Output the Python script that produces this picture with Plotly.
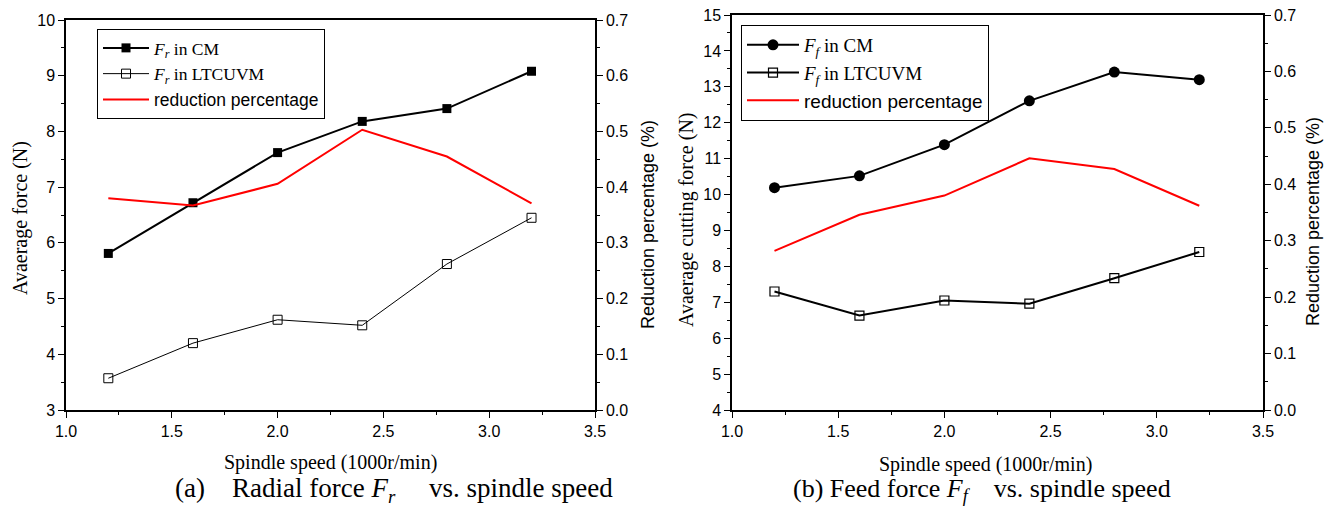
import plotly.graph_objects as go

speed = [1.2, 1.6, 2.0, 2.4, 2.8, 3.2]

# (a) radial force
fr_cm = [5.81, 6.72, 7.62, 8.18, 8.41, 9.08]
fr_ltcuvm = [3.57, 4.20, 4.62, 4.52, 5.62, 6.45]
fr_reduction = [0.380, 0.367, 0.406, 0.503, 0.455, 0.371]

# (b) feed force
ff_cm = [10.19, 10.52, 11.39, 12.61, 13.41, 13.20]
ff_ltcuvm = [7.30, 6.63, 7.05, 6.96, 7.67, 8.40]
ff_reduction = [0.282, 0.346, 0.380, 0.446, 0.427, 0.362]

SERIF = "Liberation Serif"
SANS = "Liberation Sans"
RED = "#ff0000"
W, H = 1333, 507

fig = go.Figure()

# ---- left chart
fig.add_trace(go.Scatter(x=speed, y=fr_cm, mode="lines+markers", xaxis="x", yaxis="y",
                         name="<i>F</i><sub><i>r</i></sub> in CM", legend="legend",
                         line=dict(color="black", width=2),
                         marker=dict(symbol="square", size=9, color="black")))
fig.add_trace(go.Scatter(x=speed, y=fr_ltcuvm, mode="lines+markers", xaxis="x", yaxis="y",
                         name="<i>F</i><sub><i>r</i></sub> in LTCUVM", legend="legend",
                         line=dict(color="black", width=1),
                         marker=dict(symbol="square-open", size=9, color="black", line=dict(width=1))))
fig.add_trace(go.Scatter(x=speed, y=fr_reduction, mode="lines", xaxis="x", yaxis="y2",
                         name=f'<span style="font-family:{SANS}">reduction percentage</span>', legend="legend",
                         line=dict(color=RED, width=2)))

# ---- right chart
fig.add_trace(go.Scatter(x=speed, y=ff_cm, mode="lines+markers", xaxis="x2", yaxis="y3",
                         name="<i>F</i><sub><i>f</i></sub> in CM", legend="legend2",
                         line=dict(color="black", width=2),
                         marker=dict(symbol="circle", size=11, color="black")))
fig.add_trace(go.Scatter(x=speed, y=ff_ltcuvm, mode="lines+markers", xaxis="x2", yaxis="y3",
                         name="<i>F</i><sub><i>f</i></sub> in LTCUVM", legend="legend2",
                         line=dict(color="black", width=2),
                         marker=dict(symbol="square-open", size=9, color="black", line=dict(width=1.2))))
fig.add_trace(go.Scatter(x=speed, y=ff_reduction, mode="lines", xaxis="x2", yaxis="y4",
                         name=f'<span style="font-family:{SANS}">reduction percentage</span>', legend="legend2",
                         line=dict(color=RED, width=2)))

tickfont = dict(family=SANS, size=16, color="black")
common = dict(showline=True, linecolor="black", linewidth=1.5, ticks="outside", ticklen=6,
              tickwidth=1.2, tickcolor="black", showgrid=False, zeroline=False, tickfont=tickfont,
              automargin=False)

L_dom = [66 / W, 595 / W]
R_dom = [732 / W, 1263 / W]
yL_dom = [1 - 410 / H, 1 - 20 / H]
yR_dom = [1 - 410 / H, 1 - 15 / H]


def minor(d):
    return dict(dtick=d, ticklen=3, ticks="outside", tickcolor="black", tickwidth=1.2)


fig.update_layout(
    width=W, height=H,
    margin=dict(l=0, r=0, t=0, b=0),
    paper_bgcolor="white", plot_bgcolor="white",
    xaxis=dict(domain=L_dom, range=[1, 3.5], dtick=0.5, tick0=1, tickformat=".1f", anchor="y",
               mirror=True, minor=minor(0.25), **common),
    yaxis=dict(domain=yL_dom, range=[3, 10], dtick=1, anchor="x", minor=minor(0.5), **common),
    yaxis2=dict(range=[0, 0.7], dtick=0.1, tickformat=".1f", overlaying="y", side="right", anchor="x",
                minor=minor(0.05), **common),
    xaxis2=dict(domain=R_dom, range=[1, 3.5], dtick=0.5, tick0=1, tickformat=".1f", anchor="y3",
                mirror=True, minor=minor(0.25), **common),
    yaxis3=dict(domain=yR_dom, range=[4, 15], dtick=1, anchor="x2", minor=minor(0.5), **common),
    yaxis4=dict(range=[0, 0.7], dtick=0.1, tickformat=".1f", overlaying="y3", side="right", anchor="x2",
                minor=minor(0.05), **common),
    legend=dict(x=97 / W, y=1 - 29 / H, xanchor="left", yanchor="top",
                bgcolor="white", bordercolor="black", borderwidth=1,
                font=dict(family=SERIF, size=17.5, color="black"), itemwidth=46,
                tracegroupgap=0),
    legend2=dict(x=741 / W, y=1 - 25 / H, xanchor="left", yanchor="top",
                 bgcolor="white", bordercolor="black", borderwidth=1,
                 font=dict(family=SERIF, size=19, color="black"), itemwidth=52,
                 tracegroupgap=0),
    showlegend=True,
)


def ann(text, x, y, family, size, angle=0):
    fig.add_annotation(text=text, x=x / W, y=1 - y / H, xref="paper", yref="paper", showarrow=False,
                       textangle=angle, font=dict(family=family, size=size, color="black"),
                       xanchor="center", yanchor="middle")


# axis titles
ann("Spindle speed (1000r/min)", 330, 462, SERIF, 20)
ann("Spindle speed (1000r/min)", 985, 464, SERIF, 20)
ann("Avaerage force (N)", 20, 218, SERIF, 20, -90)
ann("Avaerage cutting force (N)", 686, 220, SERIF, 20, -90)
ann("Reduction percentage (%)", 648, 225, SANS, 18, -90)
ann("Reduction percentage (%)", 1313, 222, SANS, 18, -90)

# captions
ann("(a)\u00a0\u00a0\u00a0 Radial force <i>F<sub>r</sub></i>\u00a0\u00a0\u00a0\u00a0 vs. spindle speed", 394, 490, SERIF, 27)
ann("(b) Feed force <i>F<sub>f</sub></i>\u00a0\u00a0\u00a0 vs. spindle speed", 982, 490, SERIF, 26)

fig.write_html("out.html")
